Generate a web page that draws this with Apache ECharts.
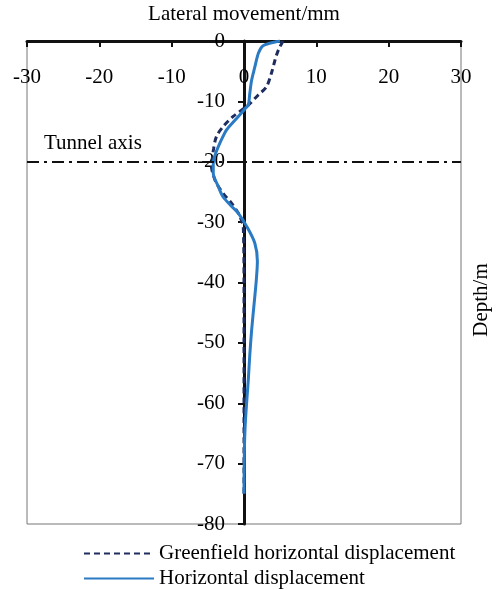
<!DOCTYPE html>
<html>
<head>
<meta charset="utf-8">
<script src="https://cdn.jsdelivr.net/npm/echarts@6/dist/echarts.min.js"></script>
<style>html,body{margin:0;padding:0;background:#fff}#c{width:501px;height:590px}</style>
</head>
<body>
<div id="c"></div>
<script>
var xTicks = [-30, -20, -10, 0, 10, 20, 30];
var yTicks = [0, -10, -20, -30, -40, -50, -60, -70, -80];
var tunnelAxisDepth = -20;

var greenfieldDepth = [0, -1.5, -3.1, -5.3, -7.6, -8.9, -10.6, -12.5, -14.2, -15.8, -17.8, -19.7, -20.8, -22.2, -23.6, -25.2, -26.9, -28.5, -29.9, -30.7, -40, -50, -60, -75];
var greenfieldX = [5.4, 4.75, 4.3, 3.8, 3.1, 2.0, 0.6, -1.5, -2.9, -3.8, -4.2, -4.4, -4.5, -4.25, -3.8, -2.9, -1.7, -0.8, -0.3, -0.1, 0, 0, 0, 0];

var horizDepth = [0, -0.3, -0.8, -2.0, -4.3, -6.5, -8.7, -10.6, -11.1, -12.8, -14.7, -15.8, -17.5, -18.9, -20.2, -21.9, -24.1, -25.8, -27.4, -28.5, -30.7, -33.5, -36.5, -39.6, -43.5, -47.8, -52, -56, -61, -64, -68, -75];
var horizX = [5.0, 3.8, 2.6, 2.0, 1.5, 1.05, 0.8, 0.6, 0.23, -1.0, -2.4, -2.9, -3.55, -4.0, -4.25, -4.25, -3.55, -2.9, -1.7, -0.8, 0.37, 1.5, 1.85, 1.7, 1.4, 1.06, 0.8, 0.6, 0.3, 0.15, 0.05, 0];

function pairs(xs, ys) { return xs.map(function (v, i) { return [v, ys[i]]; }); }

var font = 'Liberation Serif';
var fs = 21;
var gridLeft = 27, gridRight = 40, W = 501;
var xMin = xTicks[0], xMax = xTicks[xTicks.length - 1];
var zeroOffset = (0 - xMin) / (xMax - xMin) * (W - gridLeft - gridRight);

var chart = echarts.init(document.getElementById('c'));
chart.setOption({
  animation: false,
  textStyle: { fontFamily: font },
  grid: { left: gridLeft, right: gridRight, top: 41, bottom: 66, containLabel: false, outerBoundsMode: 'none',
          show: true, borderColor: '#777', borderWidth: 1 },
  xAxis: {
    type: 'value', position: 'top', min: xMin, max: xMax, interval: 10,
    name: 'Lateral movement/mm', nameLocation: 'middle', nameGap: 16,
    nameTextStyle: { fontFamily: font, fontSize: fs, color: '#000' },
    axisLine: { onZero: false, lineStyle: { color: '#111', width: 3 } },
    axisTick: { inside: true, length: 6, lineStyle: { color: '#111', width: 2 } },
    axisLabel: { inside: true, margin: 26, fontFamily: font, fontSize: fs, color: '#000' },
    splitLine: { show: false }
  },
  yAxis: {
    type: 'value', min: yTicks[yTicks.length - 1], max: yTicks[0], interval: 10,
    offset: -zeroOffset,
    axisLine: { onZero: false, lineStyle: { color: '#111', width: 3 } },
    axisTick: { length: 6, lineStyle: { color: '#111', width: 2 } },
    axisLabel: { margin: 19, fontFamily: font, fontSize: fs, color: '#000' },
    splitLine: { show: false }
  },
  legend: [
    {
      left: 78, top: 538, itemWidth: 70, itemHeight: 14, itemGap: 4, itemStyle: { opacity: 0 },
      textStyle: { fontFamily: font, fontSize: fs, color: '#000' },
      data: ['Greenfield horizontal displacement']
    },
    {
      left: 78, top: 563, itemWidth: 70, itemHeight: 14, itemGap: 4, itemStyle: { opacity: 0 },
      textStyle: { fontFamily: font, fontSize: fs, color: '#000' },
      data: ['Horizontal displacement']
    }
  ],
  graphic: [
    { type: 'text', left: 44, top: 133, style: { text: 'Tunnel axis', font: fs + 'px "Liberation Serif"', fill: '#000' } },
    { type: 'text', x: 481, y: 300, rotation: Math.PI / 2, style: { text: 'Depth/m', font: fs + 'px "Liberation Serif"', fill: '#000', align: 'center', verticalAlign: 'middle' } }
  ],
  series: [
    {
      name: 'Greenfield horizontal displacement', type: 'line', symbol: 'none', smooth: 0.3,
      data: pairs(greenfieldX, greenfieldDepth),
      lineStyle: { color: '#1f2c5e', width: 3, type: [6, 4] },
      itemStyle: { color: '#1f2c5e' },
      markLine: {
        silent: true, symbol: 'none', label: { show: false },
        lineStyle: { color: '#111', width: 2, type: [12, 5, 3, 5] },
        data: [{ yAxis: tunnelAxisDepth }]
      }
    },
    {
      name: 'Horizontal displacement', type: 'line', symbol: 'none', smooth: 0.3,
      data: pairs(horizX, horizDepth),
      lineStyle: { color: '#2a7bc4', width: 3 },
      itemStyle: { color: '#2a7bc4' }
    }
  ]
});
</script>
</body>
</html>
